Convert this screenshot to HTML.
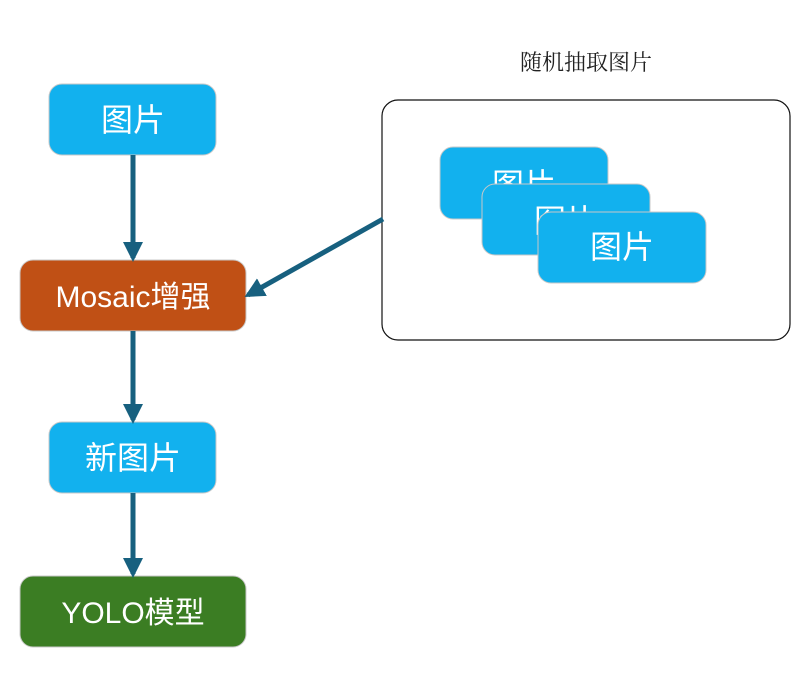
<!DOCTYPE html>
<html><head><meta charset="utf-8"><style>
body{margin:0;background:#fff;width:807px;height:678px;overflow:hidden}
svg text{font-family:"Liberation Sans","Noto Sans CJK SC",sans-serif;fill:#fff}
</style></head><body>
<svg width="807" height="678" viewBox="0 0 807 678" xmlns="http://www.w3.org/2000/svg">
<defs><marker id="a" markerWidth="4" markerHeight="4" refX="3.2" refY="2" orient="auto" markerUnits="strokeWidth"><path d="M0,0 L4,2 L0,4 Z" fill="#17607f"/></marker></defs>
<text x="586" y="70" font-size="22" text-anchor="middle" style="fill:#222;font-family:'Liberation Serif','Noto Serif CJK SC',serif">随机抽取图片</text>
<rect x="382" y="100" width="408" height="240" rx="16" fill="#fff" stroke="#111" stroke-width="1.2"/>
<g stroke="#c8c8c8" stroke-width="1">
<rect x="49" y="84" width="167" height="71" rx="13" fill="#12b1ee"/>
<rect x="20" y="260" width="226" height="71" rx="13" fill="#c05015"/>
<rect x="49" y="422" width="167" height="71" rx="13" fill="#12b1ee"/>
<rect x="20" y="576" width="226" height="71" rx="13" fill="#3b7d23"/>
<rect x="440" y="147" width="168" height="72" rx="13" fill="#12b1ee"/>
</g>
<text x="524" y="196" font-size="32" text-anchor="middle">图片</text>
<rect x="482" y="184" width="168" height="71" rx="13" fill="#12b1ee" stroke="#c8c8c8"/>
<text x="566" y="232" font-size="32" text-anchor="middle">图片</text>
<rect x="538" y="212" width="168" height="71" rx="13" fill="#12b1ee" stroke="#c8c8c8"/>
<text x="622" y="258" font-size="32" text-anchor="middle">图片</text>
<text x="133" y="131" font-size="32" text-anchor="middle">图片</text>
<text x="133" y="307" font-size="30" text-anchor="middle">Mosaic增强</text>
<text x="133" y="469" font-size="32" text-anchor="middle">新图片</text>
<text x="133" y="623" font-size="30" text-anchor="middle">YOLO模型</text>
<g stroke="#17607f" stroke-width="5" fill="none" marker-end="url(#a)">
<line x1="133" y1="155" x2="133" y2="258"/>
<line x1="133" y1="331" x2="133" y2="420"/>
<line x1="133" y1="493" x2="133" y2="574"/>
<line x1="383" y1="219" x2="248" y2="295"/>
</g>
</svg>
</body></html>
